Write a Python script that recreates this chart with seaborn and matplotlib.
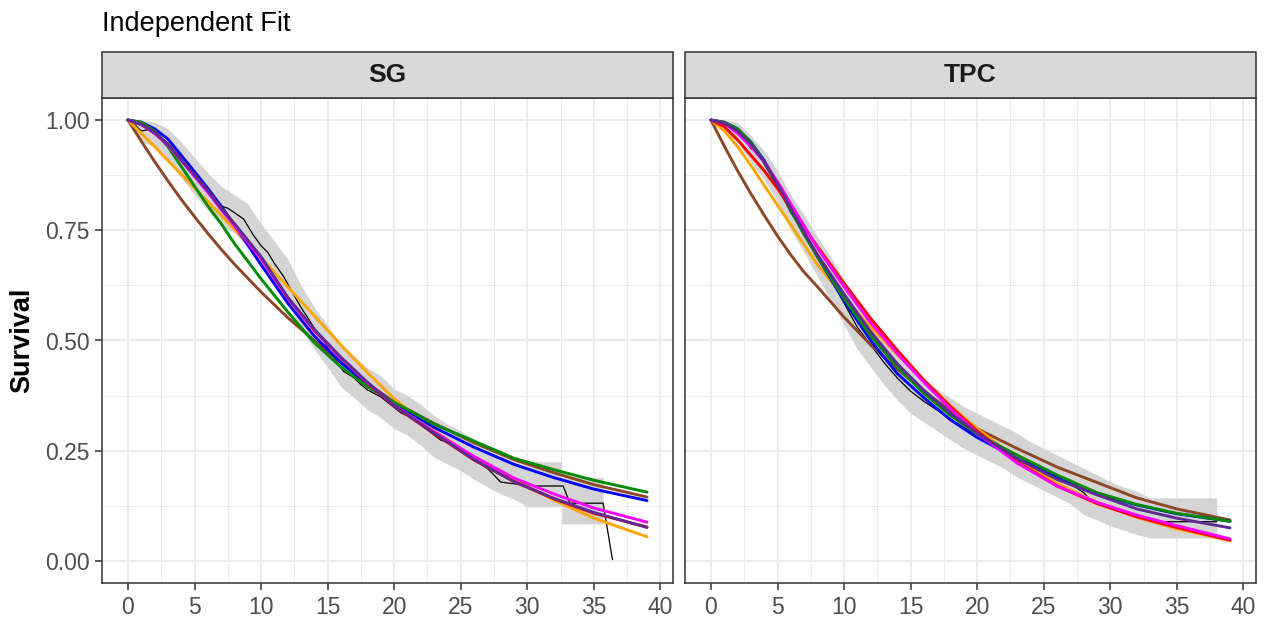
import numpy as np
import pandas as pd
import matplotlib
matplotlib.use("Agg")
import matplotlib.pyplot as plt
from matplotlib.patches import Rectangle
from matplotlib.ticker import MultipleLocator, FixedLocator
import seaborn as sns

# ---------------- data ----------------
PANELS = ["SG", "TPC"]
TITLE = "Independent Fit"
Y_LABEL = "Survival"
X_TICKS = [0, 5, 10, 15, 20, 25, 30, 35, 40]
Y_TICKS = [0.00, 0.25, 0.50, 0.75, 1.00]

T_FIT = [0, 1, 2, 3, 4, 5, 6, 7, 8, 10, 12, 14, 16, 18, 20, 23, 26, 29, 32, 35, 39]

# SG fitted curves
SG_BROWN = [1, 0.952, 0.906, 0.862, 0.820, 0.781, 0.743, 0.707, 0.673, 0.610, 0.552, 0.500, 0.450, 0.403, 0.360, 0.312, 0.268, 0.230, 0.200, 0.173, 0.145]
SG_ORANGE = [1, 0.970, 0.940, 0.908, 0.877, 0.846, 0.815, 0.784, 0.752, 0.688, 0.622, 0.556, 0.490, 0.427, 0.368, 0.295, 0.235, 0.185, 0.138, 0.097, 0.055]
SG_GREEN = [1, 0.995, 0.975, 0.940, 0.895, 0.850, 0.805, 0.765, 0.720, 0.640, 0.565, 0.495, 0.440, 0.395, 0.360, 0.310, 0.272, 0.233, 0.207, 0.183, 0.156]
SG_BLUE = [1, 0.995, 0.980, 0.957, 0.920, 0.883, 0.845, 0.805, 0.762, 0.672, 0.585, 0.510, 0.450, 0.400, 0.358, 0.303, 0.258, 0.219, 0.189, 0.163, 0.137]
SG_RED = [1, 0.990, 0.972, 0.945, 0.910, 0.875, 0.840, 0.800, 0.764, 0.688, 0.597, 0.523, 0.461, 0.403, 0.351, 0.289, 0.229, 0.180, 0.141, 0.108, 0.077]
SG_MAGENTA = [1, 0.990, 0.970, 0.943, 0.908, 0.872, 0.836, 0.797, 0.760, 0.685, 0.596, 0.522, 0.460, 0.404, 0.353, 0.293, 0.237, 0.188, 0.152, 0.120, 0.088]
SG_PURPLE = [1, 0.990, 0.972, 0.945, 0.910, 0.875, 0.840, 0.800, 0.765, 0.690, 0.598, 0.525, 0.462, 0.405, 0.352, 0.290, 0.230, 0.180, 0.142, 0.110, 0.076]

# TPC fitted curves
TPC_BROWN = [1, 0.941, 0.885, 0.833, 0.784, 0.737, 0.694, 0.655, 0.622, 0.553, 0.490, 0.435, 0.385, 0.340, 0.300, 0.255, 0.213, 0.178, 0.143, 0.118, 0.093]
TPC_ORANGE = [1, 0.975, 0.940, 0.897, 0.852, 0.807, 0.762, 0.717, 0.672, 0.598, 0.530, 0.468, 0.410, 0.352, 0.300, 0.232, 0.176, 0.133, 0.099, 0.073, 0.046]
TPC_GREEN = [1, 0.995, 0.980, 0.950, 0.905, 0.850, 0.795, 0.740, 0.690, 0.595, 0.510, 0.440, 0.380, 0.330, 0.288, 0.240, 0.195, 0.155, 0.128, 0.108, 0.090]
TPC_BLUE = [1, 0.995, 0.980, 0.950, 0.908, 0.855, 0.800, 0.745, 0.690, 0.590, 0.500, 0.425, 0.370, 0.320, 0.280, 0.232, 0.190, 0.153, 0.127, 0.107, 0.090]
TPC_RED = [1, 0.985, 0.955, 0.920, 0.885, 0.845, 0.800, 0.757, 0.713, 0.630, 0.550, 0.478, 0.410, 0.350, 0.295, 0.225, 0.170, 0.130, 0.100, 0.076, 0.047]
TPC_MAGENTA = [1, 0.993, 0.970, 0.940, 0.905, 0.860, 0.810, 0.760, 0.710, 0.622, 0.540, 0.470, 0.405, 0.345, 0.290, 0.222, 0.170, 0.133, 0.104, 0.080, 0.050]
TPC_PURPLE = [1, 0.993, 0.975, 0.945, 0.905, 0.855, 0.800, 0.745, 0.695, 0.605, 0.520, 0.447, 0.387, 0.335, 0.290, 0.232, 0.185, 0.150, 0.118, 0.097, 0.075]

# Kaplan-Meier estimates
KM_SG_T = [0, 0.5, 1, 1.5, 2, 2.5, 3, 4, 5, 6, 7, 7.5, 8, 8.7, 9.4, 10, 10.5, 11, 11.7, 12.3,
           13, 13.5, 14, 14.5, 15, 15.5, 16.2, 17, 17.5, 18, 19, 19.5, 20.5, 21.3, 22.2, 23.5,
           24.2, 25, 26, 27, 27.5, 28, 29, 30.6, 32.7, 33.2, 35.7, 36.4]
KM_SG_S = [1, 0.99, 0.975, 0.978, 0.968, 0.955, 0.94, 0.908, 0.873, 0.838, 0.805, 0.80, 0.79, 0.775, 0.74, 0.715, 0.70, 0.675, 0.645, 0.612,
           0.575, 0.552, 0.528, 0.51, 0.485, 0.46, 0.43, 0.415, 0.40, 0.388, 0.372, 0.36, 0.336, 0.325, 0.304, 0.274,
           0.267, 0.25, 0.229, 0.21, 0.195, 0.179, 0.175, 0.170, 0.170, 0.131, 0.131, 0.003]
KM_TPC_T = [0, 1, 2, 2.5, 3, 3.5, 4, 5, 6, 7, 8, 9, 10, 11, 11.5, 12, 13, 14, 15, 16, 17, 18, 19, 20, 21,
            22, 23, 24, 25, 26, 27, 28, 28.7, 30.2, 30.8, 32.3, 33, 38]
KM_TPC_S = [1, 0.99, 0.975, 0.96, 0.935, 0.93, 0.9, 0.85, 0.79, 0.745, 0.69, 0.64, 0.585, 0.53, 0.51, 0.49, 0.45, 0.415, 0.385, 0.362, 0.342, 0.322, 0.303, 0.287, 0.272,
            0.256, 0.24, 0.222, 0.205, 0.19, 0.175, 0.155, 0.133, 0.122, 0.111, 0.10, 0.089, 0.089]

# confidence bands of the KM estimates
BAND_SG_T = [0, 1, 2, 3, 4, 5, 6, 7, 8, 9, 10, 11, 12, 13, 14, 15, 16, 17, 18, 19, 20, 21, 22, 23, 24, 25, 26, 27, 28, 29, 30, 32.6, 32.6, 35.7]
BAND_SG_UP = [1, 1.0, 0.995, 0.98, 0.95, 0.915, 0.88, 0.85, 0.83, 0.81, 0.765, 0.725, 0.685, 0.625, 0.575, 0.535, 0.49, 0.465, 0.438, 0.42,
              0.39, 0.375, 0.355, 0.33, 0.31, 0.295, 0.275, 0.26, 0.245, 0.235, 0.225, 0.225, 0.19, 0.19]
BAND_SG_LO = [1, 0.95, 0.94, 0.91, 0.87, 0.83, 0.795, 0.76, 0.745, 0.71, 0.665, 0.63, 0.585, 0.525, 0.48, 0.44, 0.395, 0.37, 0.343, 0.325,
              0.30, 0.285, 0.262, 0.235, 0.22, 0.205, 0.185, 0.168, 0.152, 0.14, 0.123, 0.123, 0.084, 0.084]
BAND_TPC_T = [0, 1, 2, 3, 4, 5, 6, 7, 8, 9, 10, 11, 12, 13, 14, 15, 16, 17, 18, 19, 20, 21, 22, 23, 24, 25, 26, 27, 28, 29, 30, 31, 32, 33, 38]
BAND_TPC_UP = [1, 1.0, 0.995, 0.965, 0.93, 0.885, 0.83, 0.785, 0.735, 0.69, 0.635, 0.58, 0.54, 0.50, 0.465, 0.435, 0.41, 0.39, 0.37, 0.35,
               0.335, 0.32, 0.305, 0.29, 0.27, 0.255, 0.24, 0.225, 0.21, 0.195, 0.18, 0.168, 0.158, 0.143, 0.143]
BAND_TPC_LO = [1, 0.975, 0.95, 0.905, 0.865, 0.815, 0.75, 0.70, 0.645, 0.59, 0.535, 0.48, 0.44, 0.40, 0.365, 0.335, 0.315, 0.295, 0.275, 0.255,
               0.24, 0.225, 0.21, 0.19, 0.175, 0.16, 0.145, 0.13, 0.105, 0.093, 0.08, 0.07, 0.06, 0.052, 0.052]

MODEL_ORDER = ["brown", "orange", "blue", "green", "red", "magenta", "purple"]
COLORS = {"brown": "#8B4726", "orange": "#FFA500", "green": "#008B00", "blue": "#0000FF",
          "red": "#FF0000", "magenta": "#FF00FF", "purple": "#5E2B91"}

FITS = {
    "SG": {"brown": SG_BROWN, "orange": SG_ORANGE, "green": SG_GREEN, "blue": SG_BLUE,
           "red": SG_RED, "magenta": SG_MAGENTA, "purple": SG_PURPLE},
    "TPC": {"brown": TPC_BROWN, "orange": TPC_ORANGE, "green": TPC_GREEN, "blue": TPC_BLUE,
            "red": TPC_RED, "magenta": TPC_MAGENTA, "purple": TPC_PURPLE},
}
KM = {"SG": (KM_SG_T, KM_SG_S), "TPC": (KM_TPC_T, KM_TPC_S)}
BANDS = {"SG": (BAND_SG_T, BAND_SG_LO, BAND_SG_UP), "TPC": (BAND_TPC_T, BAND_TPC_LO, BAND_TPC_UP)}

# ---------------- styling ----------------
sns.set_theme(style="white")
plt.rcParams["font.family"] = ["Liberation Sans", "DejaVu Sans"]

W, H = 1265, 621
fig = plt.figure(figsize=(W / 100, H / 100), dpi=100)
panel_top, panel_bot = 98, 583
strip_h = 46
axes = []
for left in (102, 685):
    ax = fig.add_axes([left / W, 1 - panel_bot / H, 571 / W, (panel_bot - panel_top) / H])
    axes.append(ax)

for ax, name in zip(axes, PANELS):
    ax.set_facecolor("white")
    ax.set_axisbelow(True)
    ax.set_xlim(-1.95, 40.95)
    ax.set_ylim(-0.05, 1.05)
    ax.xaxis.set_major_locator(FixedLocator(X_TICKS))
    ax.xaxis.set_minor_locator(FixedLocator([x + 2.5 for x in X_TICKS[:-1]]))
    ax.yaxis.set_major_locator(FixedLocator(Y_TICKS))
    ax.yaxis.set_minor_locator(FixedLocator([y + 0.125 for y in Y_TICKS[:-1]]))
    ax.grid(which="major", color="#EBEBEB", lw=1.3)
    ax.grid(which="minor", color="#EBEBEB", lw=0.65)
    for sp in ax.spines.values():
        sp.set_color("#333333")
        sp.set_linewidth(1.1)
    ax.tick_params(which="major", length=5, width=1.1, color="#333333",
                   labelsize=16.5, labelcolor="#4D4D4D", pad=4,
                   bottom=True, left=(name == "SG"))
    ax.tick_params(which="minor", length=0)
    ax.set_xticklabels([str(x) for x in X_TICKS])
    if name == "SG":
        ax.set_yticklabels([f"{y:.2f}" for y in Y_TICKS])
    else:
        ax.set_yticklabels([])

    # CI band
    bt, blo, bup = BANDS[name]
    ax.fill_between(bt, blo, bup, color="#D4D4D4", lw=0, zorder=1)

    # KM line
    kt, ks = KM[name]
    sns.lineplot(x=kt, y=ks, ax=ax, color="black", lw=0.9, estimator=None, sort=False, zorder=2)

    # fitted curves
    rows = []
    for m in MODEL_ORDER:
        for t, s in zip(T_FIT, FITS[name][m]):
            rows.append({"t": t, "S": s, "model": m})
    df = pd.DataFrame(rows)
    sns.lineplot(data=df, x="t", y="S", hue="model", hue_order=MODEL_ORDER, palette=COLORS,
                 ax=ax, lw=2.1, estimator=None, sort=False, legend=False, zorder=3)
    ax.set_xlabel("")
    ax.set_ylabel("")

    # facet strip
    sh = strip_h / (panel_bot - panel_top)
    ax.add_patch(Rectangle((0, 1), 1, sh, transform=ax.transAxes, facecolor="#D9D9D9",
                           edgecolor="#333333", lw=1.1, clip_on=False, zorder=5))
    ax.text(0.5, 1 + sh / 2, name, transform=ax.transAxes, ha="center", va="center",
            fontsize=19, fontweight="bold", color="#1A1A1A", zorder=6)

fig.text(102 / W, 1 - 24 / H, TITLE, ha="left", va="center", fontsize=19.5, color="black")
fig.text(22 / W, 1 - ((panel_top + panel_bot) / 2) / H, Y_LABEL, rotation=90,
         ha="center", va="center", fontsize=19.5, fontweight="bold", color="black")

fig.savefig("out.png", dpi=100)
